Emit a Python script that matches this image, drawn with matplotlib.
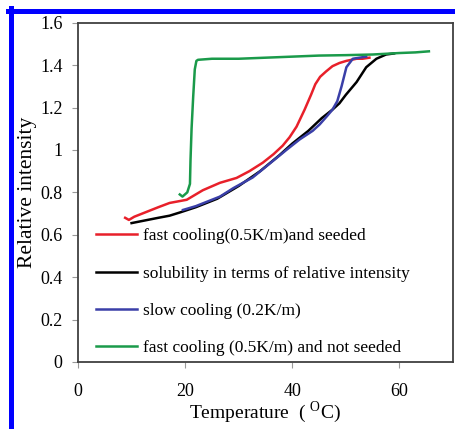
import matplotlib
matplotlib.use("Agg")
import matplotlib.pyplot as plt
from matplotlib.lines import Line2D

plt.rcParams['font.family'] = ['Liberation Serif', 'DejaVu Serif']
plt.rcParams['mathtext.fontset'] = 'custom'
plt.rcParams['mathtext.rm'] = 'Liberation Serif'

# Data
red_x = [8.8, 9.5, 10.5, 12, 15, 17.1, 20.3, 23.3, 26.5, 29.6, 32, 34.5, 36.5, 38.2,
         39.5, 40.8, 42.3, 43.5, 44.3, 45.2, 46.3, 47.5, 48.8, 50.1, 52, 53.1, 54.4]
red_y = [0.68, 0.67, 0.685, 0.70, 0.73, 0.75, 0.765, 0.81, 0.845, 0.868, 0.90, 0.94,
         0.98, 1.02, 1.06, 1.11, 1.19, 1.26, 1.31, 1.345, 1.37, 1.395, 1.41, 1.42, 1.43,
         1.43, 1.435]

black_x = [10, 11, 13, 15, 17.1, 19, 22, 26, 30, 34, 37.6, 40, 43, 45.5, 47.5, 48.8,
           50, 52, 53.8, 55.7, 57.5, 59]
black_y = [0.655, 0.66, 0.67, 0.68, 0.69, 0.705, 0.73, 0.77, 0.83, 0.90, 0.975, 1.03,
           1.09, 1.15, 1.19, 1.22, 1.26, 1.32, 1.39, 1.43, 1.45, 1.455]

blue_x = [19.6, 22, 26.5, 29, 32.6, 35.5, 38.9, 41.4, 43.8, 45.1, 46.5, 47.5, 48.4,
          49.2, 50.1, 51.3, 53.8]
blue_y = [0.717, 0.735, 0.78, 0.82, 0.87, 0.93, 1.0, 1.05, 1.09, 1.12, 1.16, 1.19,
          1.23, 1.30, 1.39, 1.43, 1.44]

green_x = [19.0, 19.5, 20.4, 20.9, 21.0, 21.2, 21.5, 21.8, 22.1, 22.4, 25, 30, 35,
           40, 45, 50, 55, 60, 63, 65.5]
green_y = [0.79, 0.78, 0.80, 0.84, 0.95, 1.10, 1.25, 1.38, 1.42, 1.425, 1.43, 1.43,
           1.435, 1.44, 1.445, 1.447, 1.45, 1.457, 1.46, 1.465]

labels = ['fast cooling(0.5K/m)and seeded',
          'solubility in terms of relative intensity',
          'slow cooling (0.2K/m)',
          'fast cooling (0.5K/m) and not seeded']
colors = ['#e8202a', '#000000', '#3a3fa8', '#1a9a4a']

fig = plt.figure(figsize=(4.55, 4.29), dpi=100)
ax = fig.add_axes([78 / 455, 1 - 362 / 429, 375 / 455, 339.3 / 429])

ax.plot(red_x, red_y, color=colors[0], lw=1.8, label=labels[0])
ax.plot(black_x, black_y, color=colors[1], lw=1.8, label=labels[1])
ax.plot(blue_x, blue_y, color=colors[2], lw=1.8, label=labels[2])
ax.plot(green_x, green_y, color=colors[3], lw=1.8, label=labels[3])

ax.set_xlim(0, 70)
ax.set_ylim(0, 1.6)
ax.set_xticks([0, 20, 40, 60])
ax.set_yticks([0, 0.2, 0.4, 0.6, 0.8, 1.0, 1.2, 1.4, 1.6])
ax.set_yticklabels(['0', '0.2', '0.4', '0.6', '0.8', '1', '1.2', '1.4', '1.6'])

for s in ax.spines.values():
    s.set_color('#404040')
    s.set_linewidth(1.3)

ax.tick_params(axis='both', labelsize=13, color='#999999', length=4, width=0.8)
ax.tick_params(axis='y', pad=7)
ax.tick_params(axis='x', pad=11)

ax.set_xlabel(r'Temperature  ( $^{\mathrm{O}}$C)', fontsize=14)
ax.xaxis.set_label_coords(0.5, -0.11)
ax.set_ylabel('Relative intensity', fontsize=15.5)
ax.yaxis.set_label_coords(-0.11, 0.5)

ax.legend(loc='lower left', bbox_to_anchor=(0.015, -0.018), frameon=False,
          fontsize=12.5, handlelength=2.4, handletextpad=0.3, labelspacing=1.21,
          borderaxespad=0.3)

# blue frame around the picture
fig.add_artist(Line2D([10.5 / 455, 10.5 / 455], [1 - 8 / 429, 0], color='#0000ff',
                      lw=3.6, transform=fig.transFigure))
fig.add_artist(Line2D([8 / 455, 1], [1 - 10.5 / 429, 1 - 10.5 / 429], color='#0000ff',
                      lw=3.6, transform=fig.transFigure))

fig.savefig('out.png', dpi=100)
